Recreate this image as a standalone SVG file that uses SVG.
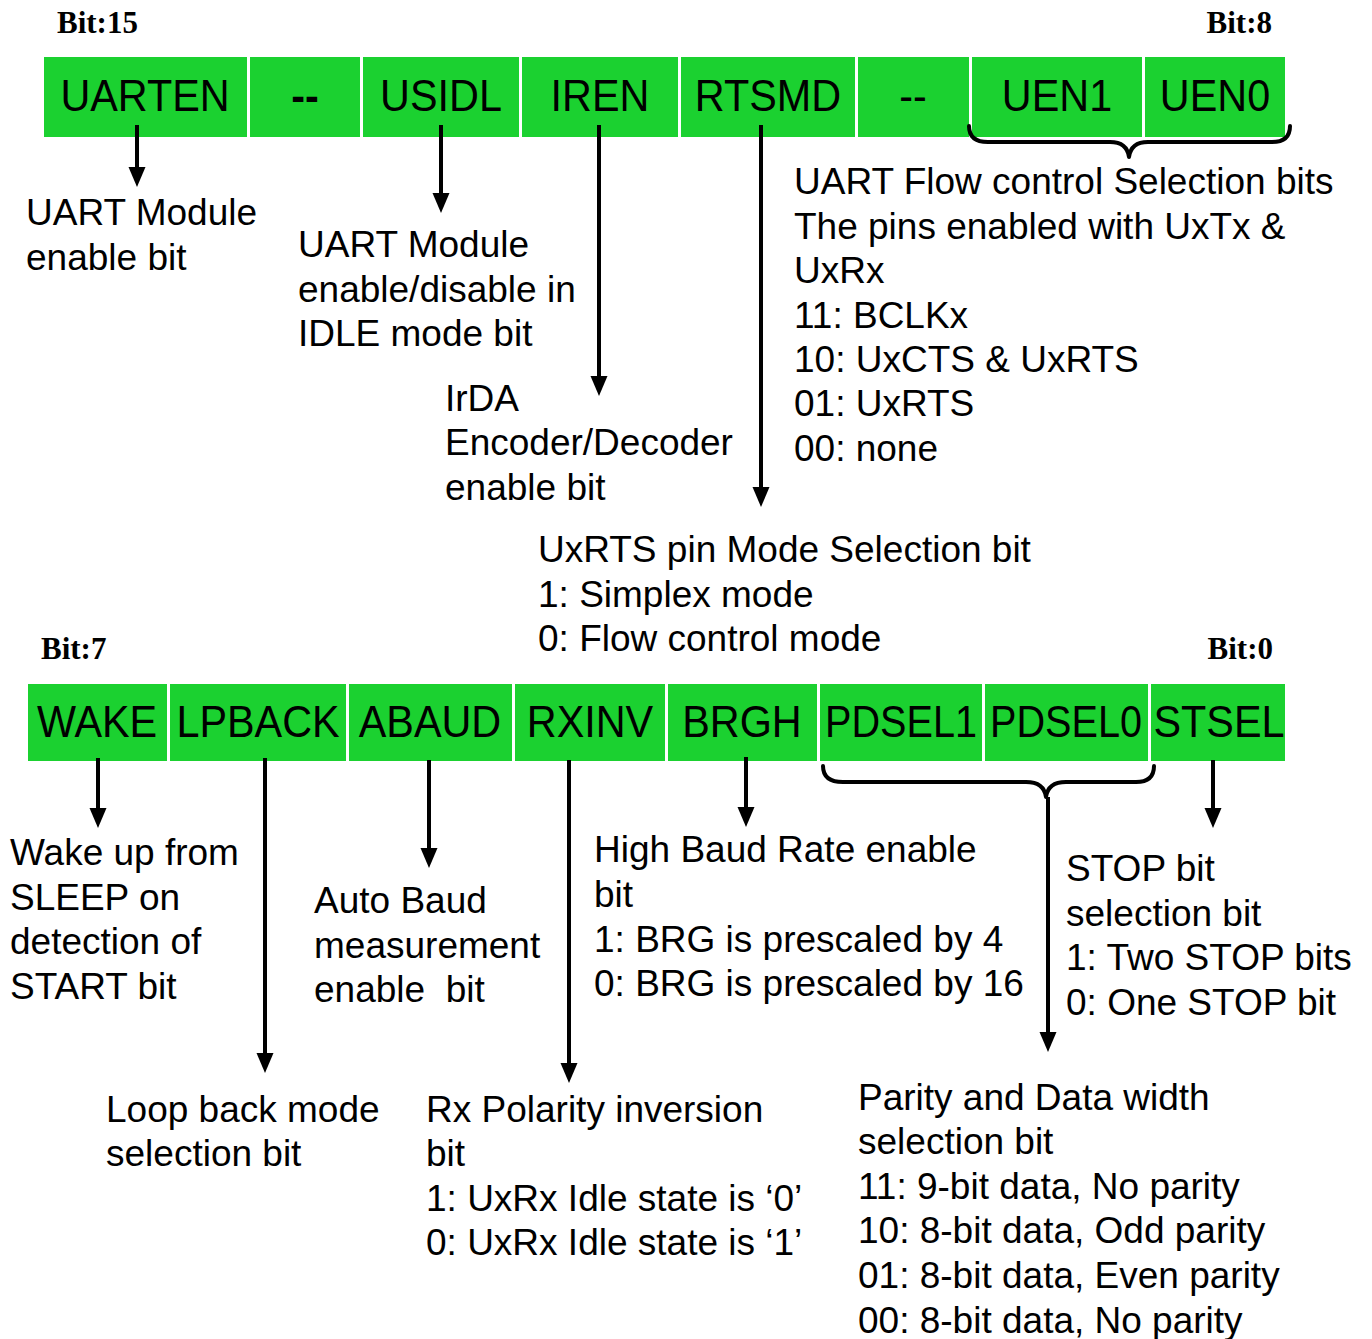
<svg xmlns="http://www.w3.org/2000/svg" width="1372" height="1339" viewBox="0 0 1372 1339">
  <style>
    .cell { fill: #1bd130; }
    .reg { font-family: "Liberation Sans", Arial, sans-serif; font-size: 44px; fill: #000; text-anchor: middle; }
    .bold { font-weight: bold; }
    .bit { font-family: "Liberation Serif", "Times New Roman", serif; font-size: 31px; font-weight: bold; fill: #000; }
    .desc { font-family: "Liberation Sans", Arial, sans-serif; font-size: 37px; fill: #000; }
    .wire { stroke: #000; stroke-width: 4; fill: none; }
    .brace { stroke: #000; stroke-width: 4; fill: none; stroke-linecap: round; stroke-linejoin: round; }
  </style>
  <defs>
    <marker id="head" markerUnits="userSpaceOnUse" markerWidth="22" markerHeight="18" refX="2" refY="8.5" orient="auto">
      <path d="M0,0 L20,8.5 L0,17 z" fill="#000"/>
    </marker>
  </defs>
  <rect width="1372" height="1339" fill="#fff"/>

  <!-- bit position labels -->
  <text class="bit" x="57" y="33">Bit:15</text>
  <text class="bit" x="1272" y="33" text-anchor="end">Bit:8</text>
  <text class="bit" x="41" y="659">Bit:7</text>
  <text class="bit" x="1273" y="659" text-anchor="end">Bit:0</text>

  <!-- high byte register cells (labels slightly condensed) -->
  <g id="UARTEN"><rect class="cell" x="44" y="57" width="203" height="80"/><text class="reg" transform="translate(145 111) scale(0.94 1)">UARTEN</text></g>
  <g id="bit14"><rect class="cell" x="250" y="57" width="110" height="80"/><text class="reg bold" transform="translate(305 111) scale(0.94 1)">--</text></g>
  <g id="USIDL"><rect class="cell" x="363" y="57" width="156" height="80"/><text class="reg" transform="translate(441 111) scale(0.94 1)">USIDL</text></g>
  <g id="IREN"><rect class="cell" x="522" y="57" width="156" height="80"/><text class="reg" transform="translate(600 111) scale(0.94 1)">IREN</text></g>
  <g id="RTSMD"><rect class="cell" x="681" y="57" width="174" height="80"/><text class="reg" transform="translate(768 111) scale(0.94 1)">RTSMD</text></g>
  <g id="bit10"><rect class="cell" x="858" y="57" width="111" height="80"/><text class="reg" transform="translate(913 111) scale(0.94 1)">--</text></g>
  <g id="UEN1"><rect class="cell" x="972" y="57" width="170" height="80"/><text class="reg" transform="translate(1057 111) scale(0.94 1)">UEN1</text></g>
  <g id="UEN0"><rect class="cell" x="1145" y="57" width="140" height="80"/><text class="reg" transform="translate(1215 111) scale(0.94 1)">UEN0</text></g>

  <!-- low byte register cells -->
  <g id="WAKE"><rect class="cell" x="28" y="684" width="139" height="77"/><text class="reg" transform="translate(97 737) scale(0.94 1)">WAKE</text></g>
  <g id="LPBACK"><rect class="cell" x="170" y="684" width="176" height="77"/><text class="reg" transform="translate(258 737) scale(0.94 1)">LPBACK</text></g>
  <g id="ABAUD"><rect class="cell" x="349" y="684" width="163" height="77"/><text class="reg" transform="translate(430 737) scale(0.94 1)">ABAUD</text></g>
  <g id="RXINV"><rect class="cell" x="515" y="684" width="150" height="77"/><text class="reg" transform="translate(590 737) scale(0.94 1)">RXINV</text></g>
  <g id="BRGH"><rect class="cell" x="668" y="684" width="149" height="77"/><text class="reg" transform="translate(742 737) scale(0.94 1)">BRGH</text></g>
  <g id="PDSEL1"><rect class="cell" x="820" y="684" width="162" height="77"/><text class="reg" transform="translate(901 737) scale(0.9 1)">PDSEL1</text></g>
  <g id="PDSEL0"><rect class="cell" x="985" y="684" width="163" height="77"/><text class="reg" transform="translate(1066 737) scale(0.9 1)">PDSEL0</text></g>
  <g id="STSEL"><rect class="cell" x="1151" y="684" width="134" height="77"/><text class="reg" transform="translate(1219 737) scale(0.94 1)">STSEL</text></g>

  <!-- connectors -->
  <g id="connectors">
    <line class="wire" x1="137" y1="125" x2="137" y2="169" marker-end="url(#head)"/>
    <line class="wire" x1="441" y1="125" x2="441" y2="195" marker-end="url(#head)"/>
    <line class="wire" x1="599" y1="125" x2="599" y2="378" marker-end="url(#head)"/>
    <line class="wire" x1="761" y1="125" x2="761" y2="489" marker-end="url(#head)"/>
    <path class="brace" d="M969,126 Q969,142 988,142 L1110,142 Q1127,142 1129,157 Q1131,142 1148,142 L1272,142 Q1290,142 1290,126"/>

    <line class="wire" x1="98" y1="758" x2="98" y2="810" marker-end="url(#head)"/>
    <line class="wire" x1="265" y1="758" x2="265" y2="1055" marker-end="url(#head)"/>
    <line class="wire" x1="429" y1="760" x2="429" y2="850" marker-end="url(#head)"/>
    <line class="wire" x1="569" y1="760" x2="569" y2="1065" marker-end="url(#head)"/>
    <line class="wire" x1="746" y1="757" x2="746" y2="809" marker-end="url(#head)"/>
    <path class="brace" d="M823,766 Q823,782 843,782 L1026,782 Q1044,782 1046,797 Q1048,782 1066,782 L1136,782 Q1154,782 1154,766"/>
    <line class="wire" x1="1048" y1="797" x2="1048" y2="1034" marker-end="url(#head)"/>
    <line class="wire" x1="1213" y1="760" x2="1213" y2="810" marker-end="url(#head)"/>
  </g>

  <!-- field descriptions, high byte -->
  <g id="desc-UARTEN" class="desc">
    <text x="26" y="225">UART Module</text>
    <text x="26" y="270">enable bit</text>
  </g>
  <g id="desc-USIDL" class="desc">
    <text x="298" y="257">UART Module</text>
    <text x="298" y="302">enable/disable in</text>
    <text x="298" y="346">IDLE mode bit</text>
  </g>
  <g id="desc-IREN" class="desc">
    <text x="445" y="411">IrDA</text>
    <text x="445" y="455">Encoder/Decoder</text>
    <text x="445" y="500">enable bit</text>
  </g>
  <g id="desc-UEN" class="desc">
    <text x="794" y="194">UART Flow control Selection bits</text>
    <text x="794" y="239">The pins enabled with UxTx &amp;</text>
    <text x="794" y="283">UxRx</text>
    <text x="794" y="328">11: BCLKx</text>
    <text x="794" y="372">10: UxCTS &amp; UxRTS</text>
    <text x="794" y="416">01: UxRTS</text>
    <text x="794" y="461">00: none</text>
  </g>
  <g id="desc-RTSMD" class="desc">
    <text x="538" y="562">UxRTS pin Mode Selection bit</text>
    <text x="538" y="607">1: Simplex mode</text>
    <text x="538" y="651">0: Flow control mode</text>
  </g>

  <!-- field descriptions, low byte -->
  <g id="desc-WAKE" class="desc">
    <text x="10" y="865">Wake up from</text>
    <text x="10" y="910">SLEEP on</text>
    <text x="10" y="954">detection of</text>
    <text x="10" y="999">START bit</text>
  </g>
  <g id="desc-ABAUD" class="desc">
    <text x="314" y="913">Auto Baud</text>
    <text x="314" y="958">measurement</text>
    <text x="314" y="1002" xml:space="preserve">enable  bit</text>
  </g>
  <g id="desc-BRGH" class="desc">
    <text x="594" y="862">High Baud Rate enable</text>
    <text x="594" y="907">bit</text>
    <text x="594" y="952">1: BRG is prescaled by 4</text>
    <text x="594" y="996">0: BRG is prescaled by 16</text>
  </g>
  <g id="desc-STSEL" class="desc">
    <text x="1066" y="881">STOP bit</text>
    <text x="1066" y="926">selection bit</text>
    <text x="1066" y="970">1: Two STOP bits</text>
    <text x="1066" y="1015">0: One STOP bit</text>
  </g>
  <g id="desc-LPBACK" class="desc">
    <text x="106" y="1122">Loop back mode</text>
    <text x="106" y="1166">selection bit</text>
  </g>
  <g id="desc-RXINV" class="desc">
    <text x="426" y="1122">Rx Polarity inversion</text>
    <text x="426" y="1166">bit</text>
    <text x="426" y="1211">1: UxRx Idle state is ‘0’</text>
    <text x="426" y="1255">0: UxRx Idle state is ‘1’</text>
  </g>
  <g id="desc-PDSEL" class="desc">
    <text x="858" y="1110">Parity and Data width</text>
    <text x="858" y="1154">selection bit</text>
    <text x="858" y="1199">11: 9-bit data, No parity</text>
    <text x="858" y="1243">10: 8-bit data, Odd parity</text>
    <text x="858" y="1288">01: 8-bit data, Even parity</text>
    <text x="858" y="1333">00: 8-bit data, No parity</text>
  </g>
</svg>
